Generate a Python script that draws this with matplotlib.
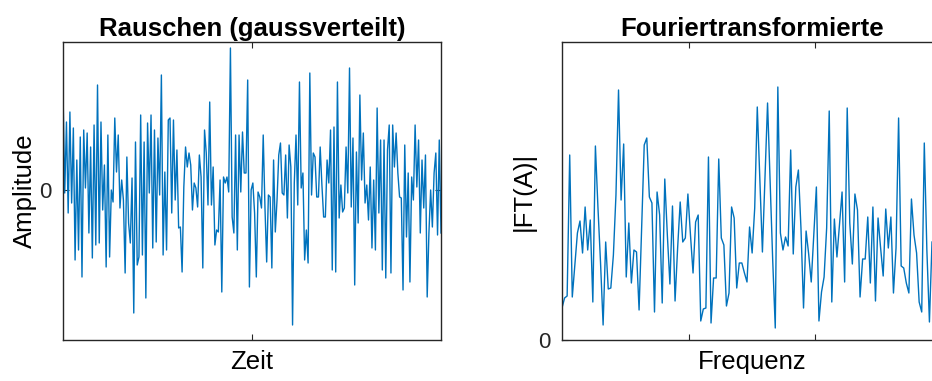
import matplotlib
matplotlib.use("Agg")
import matplotlib.pyplot as plt

plt.rcParams['font.family'] = ['Liberation Sans', 'DejaVu Sans']

# Rauschen (Amplitude)
noise = [2.00, -0.06, 1.36, -0.46, 1.56, -0.26, 1.24, -1.40, 0.60, -1.20, 1.06, -1.74, 1.20, 0.04,
         1.14, -0.86, 0.86, -1.36, 1.30, -1.10, 2.10, -1.06, 1.36, -0.40, 0.50, -1.54, 1.10, -1.34,
         0.00, -0.24, 1.44, 0.36, 1.10, -0.36,
         0.20, -0.20, -1.66, 0.66, -0.66, -1.06, 0.24, -2.46, 0.96, -1.50, -1.34, 1.50, -1.30, 0.96,
         -2.16, 1.34, -0.06, 1.50, -1.16, 1.20, -1.04, 1.04, -0.10, 2.30, -1.30, 0.36, -1.20, 1.40,
         1.44, -0.46, 1.40, -0.20, 0.80, -0.76, -0.74, -1.64, 0.06, 0.86, 0.46,
         0.74, 0.50, -0.40, 0.14, 0.04, -0.34, 0.70, 0.26, -1.56, 1.20, 0.74, -0.30, 1.76, -0.30,
         0.46, -1.10, -0.80, -0.84, 0.20, -2.04, 0.26, 0.14, 0.26, -0.04, 2.84, -0.54, -0.86, 1.10,
         -1.20, 1.10, -0.04, 1.16, 0.34, 0.34, 2.20, -1.94, 0.00,
         0.14, -0.46, -1.74, -0.04, -0.14, -0.36, 1.10, -0.34, -1.44, -0.10, -0.14, -1.56, 0.60,
         -0.84, -0.20, 0.70, 0.94, -0.06, -0.10, 0.70, -0.56, 0.90, 0.46, -2.70, 0.14, 1.10, -0.30,
         2.16, 0.04, 0.34, -1.40, -0.80, -1.46, 2.34, -0.10, 0.74, 0.66, -0.14, -0.14, 0.86, 0.10,
         -0.54, -0.54, 0.60, 0.14, 1.20, -1.60, 1.26, -1.64, 2.16, -0.56, 0.10, -0.44, -0.36, 0.86,
         -0.06, 2.44, -0.34, 1.04, -1.90, 0.76, -0.66, 1.90, 0.20, 1.14, -0.26, 0.10, -0.60, 0.46,
         -1.16, 0.20, -1.20, 1.64, -0.46, 1.00, -1.60, 1.00, -1.76, 0.80,
         1.30, -1.66, 1.30, 0.46, 1.14, 0.34, -0.14, -0.16, -2.00, 0.90, -0.94, 0.34, -1.84, 0.26,
         -0.20, 1.30, 0.06, 1.00, -0.86, 0.60, -0.36, 0.70, -2.14, -0.86, 0.00, -0.74, 0.34, 0.74,
         -0.90, 1.00, -0.86]

# Betrag der Fouriertransformierten
ft = [0.64, 0.84, 0.88, 3.70, 0.86, 1.50, 2.14, 2.38, 1.74, 2.66, 1.80, 2.40, 0.76, 3.88, 2.64,
      1.54, 0.30, 1.96, 1.02, 1.04, 1.70, 2.90, 5.00, 2.80, 3.92, 1.26, 2.34, 1.14, 1.80, 1.76,
      0.60, 2.24, 3.90, 4.04, 2.86, 2.74, 0.56, 2.96, 2.50, 0.74, 3.22, 2.10, 1.12, 2.68, 0.78,
      1.84, 2.76, 1.96, 2.04,
      2.92, 2.10, 1.34, 2.36, 2.50, 0.38, 0.62, 0.64, 3.66, 0.34, 1.24, 1.24, 3.62, 2.04, 1.90,
      0.68, 0.94, 2.66, 2.44, 1.04, 1.54, 1.54, 1.34, 1.16, 2.26, 1.74, 2.64, 4.66, 3.20, 1.76,
      3.24, 4.74, 3.18, 1.60, 0.24, 5.06, 2.14, 1.80, 2.06, 1.88, 3.80, 1.72, 3.06, 3.40, 2.24,
      0.64, 2.18, 1.72,
      1.16, 2.10, 3.06, 0.38, 0.96, 1.26, 2.24, 4.58, 0.76, 2.42, 1.66, 2.30, 2.96, 1.16, 4.64,
      2.34, 1.52, 2.92, 2.60, 0.86, 1.62, 1.62, 2.46, 1.14, 2.66, 0.78, 2.44, 1.84, 1.28, 2.62,
      1.84, 2.46, 0.94, 1.84, 4.44, 1.48, 1.44, 1.14, 0.94, 2.82, 2.10, 1.74, 0.76, 0.56, 3.94,
      1.80, 0.36, 1.96]

line_color = '#0072BD'
edge = '#262626'

fig = plt.figure(figsize=(9.32, 3.81), dpi=100)
ax1 = fig.add_axes([63 / 932, 41 / 381, 378 / 932, 298 / 381])
ax2 = fig.add_axes([562 / 932, 41 / 381, 380 / 932, 298 / 381])

# linkes Bild: Rauschen
ax1.plot(range(len(noise)), noise, color=line_color, lw=1.0)
ax1.set_xlim(0, len(noise) - 1)
ax1.set_ylim(-3.0, 2.96)
ax1.set_xticks([(len(noise) - 1) / 2])
ax1.set_yticks([0])
ax1.set_xticklabels([])
ax1.set_title("Rauschen (gaussverteilt)", fontsize=18.5, fontweight='bold', pad=4)
ax1.set_xlabel("Zeit", fontsize=18.5, labelpad=4)
ax1.set_ylabel("Amplitude", fontsize=18.5, labelpad=2)

# rechtes Bild: Fouriertransformierte (rechts abgeschnitten)
xmax = (len(ft) - 1) * 380 / 370
ax2.plot(range(len(ft)), ft, color=line_color, lw=1.0)
ax2.set_xlim(0, xmax)
ax2.set_ylim(0, 5.96)
ax2.set_xticks([xmax / 3, 2 * xmax / 3])
ax2.set_yticks([0])
ax2.set_xticklabels([])
ax2.set_title("Fouriertransformierte", fontsize=18.5, fontweight='bold', pad=4)
ax2.set_xlabel("Frequenz", fontsize=18.5, labelpad=4)
ax2.set_ylabel("|FT(A)|", fontsize=18.5, labelpad=2)

for ax in (ax1, ax2):
    for s in ax.spines.values():
        s.set_color(edge)
        s.set_linewidth(1.0)
    ax.tick_params(direction='in', top=True, right=True, length=4, width=0.8,
                   colors=edge, labelsize=16, labelcolor='#262626')
    ax.tick_params(axis='y', pad=8)

fig.savefig("out.png", dpi=100)
